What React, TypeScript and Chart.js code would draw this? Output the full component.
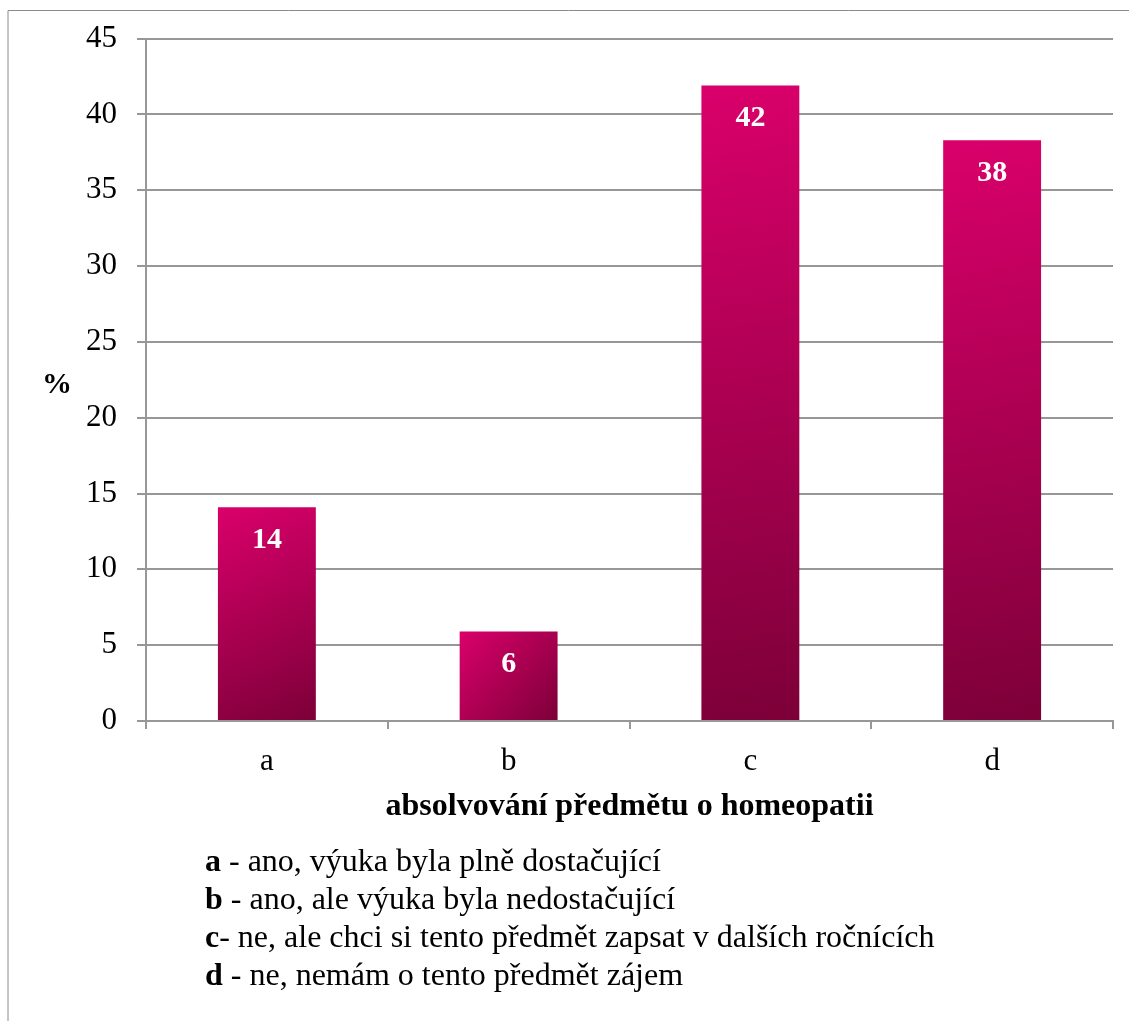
import React, { useEffect, useRef } from "react";
import { Chart, registerables } from "chart.js";

Chart.register(...registerables);

const CATEGORIES = ["a", "b", "c", "d"];
const VALUES = [14.1, 5.9, 41.9, 38.3];
const VALUE_LABELS = ["14", "6", "42", "38"];
const Y_MIN = 0;
const Y_MAX = 45;
const Y_STEP = 5;
const X_TITLE = "absolvování předmětu o homeopatii";
const Y_TITLE = "%";
const LEGEND_KEYS = ["a", "b", "c", "d"];
const LEGEND_TEXTS = [
  " - ano, výuka byla plně dostačující",
  " - ano, ale výuka byla nedostačující",
  "- ne, ale chci si tento předmět zapsat v dalších ročnících",
  " - ne, nemám o tento předmět zájem",
];

const SERIF = "'Liberation Serif', 'Times New Roman', serif";
const W = 1129;
const H = 1021;
const GRID = "#979797";
const BAR_PCT = 0.405;

const frame = {
  id: "frame",
  beforeDraw(chart: any) {
    const c = chart.ctx;
    c.save();
    c.strokeStyle = "#8a8a8a";
    c.lineWidth = 1;
    c.beginPath();
    c.moveTo(8, H);
    c.lineTo(8, 10.5);
    c.lineTo(W, 10.5);
    c.stroke();
    c.restore();
  },
};

const valueLabels = {
  id: "valueLabels",
  afterDatasetsDraw(chart: any) {
    const meta = chart.getDatasetMeta(0);
    const c = chart.ctx;
    c.save();
    c.fillStyle = "#ffffff";
    c.font = `bold 30px ${SERIF}`;
    c.textAlign = "center";
    c.textBaseline = "middle";
    meta.data.forEach((el: any, i: number) => {
      c.fillText(VALUE_LABELS[i], el.x, el.y + 33);
    });
    c.restore();
  },
};

export default function App() {
  const ref = useRef<HTMLCanvasElement | null>(null);

  useEffect(() => {
    if (!ref.current) return;
    const chart = new Chart(ref.current, {
      type: "bar",
      data: {
        labels: CATEGORIES,
        datasets: [
          {
            data: VALUES,
            categoryPercentage: 1,
            barPercentage: BAR_PCT,
            borderWidth: 0,
            backgroundColor: (ctx: any) => {
              const ch = ctx.chart;
              if (!ch.chartArea || ctx.type !== "data") return "#c0005c";
              const xs = ch.scales.x;
              const ys = ch.scales.y;
              const x = xs.getPixelForValue(ctx.dataIndex);
              const half = ((xs.width / CATEGORIES.length) * BAR_PCT) / 2;
              const top = ys.getPixelForValue(ctx.raw);
              const base = ys.getPixelForValue(0);
              const g = ch.ctx.createLinearGradient(x - half, top, x + half, base);
              g.addColorStop(0, "#da006b");
              g.addColorStop(1, "#7c0038");
              return g;
            },
          },
        ],
      },
      options: {
        responsive: false,
        animation: false,
        devicePixelRatio: 1,
        layout: { padding: { top: 35, right: 16, bottom: 195, left: 0 } },
        plugins: {
          legend: { display: false },
          tooltip: { enabled: false },
          title: { display: false },
        },
        scales: {
          x: {
            offset: true,
            grid: {
              offset: true,
              drawOnChartArea: false,
              drawTicks: true,
              tickLength: 8,
              color: GRID,
              lineWidth: 2,
            },
            border: { display: true, color: GRID, width: 2 },
            ticks: {
              color: "#000",
              font: { family: SERIF, size: 31 },
              padding: 14,
            },
            title: {
              display: true,
              text: X_TITLE,
              color: "#000",
              font: { family: SERIF, size: 32, weight: "bold" },
              padding: { top: 0, bottom: 0 },
            },
            afterFit(scale: any) {
              scale.height = 105;
            },
          },
          y: {
            min: Y_MIN,
            max: Y_MAX,
            grid: {
              color: GRID,
              lineWidth: 2,
              tickLength: 9,
              drawTicks: true,
            },
            border: { display: true, color: GRID, width: 2 },
            ticks: {
              stepSize: Y_STEP,
              color: "#000",
              font: { family: SERIF, size: 31 },
              padding: 20,
            },
            afterFit(scale: any) {
              scale.width = 146;
            },
          },
        },
      },
      plugins: [frame, valueLabels],
    });
    return () => chart.destroy();
  }, []);

  return (
    <div style={{ position: "absolute", left: 0, top: 0, width: W, height: H, background: "#fff" }}>
      <canvas ref={ref} width={W} height={H} style={{ position: "absolute", left: 0, top: 0 }} />
      <div
        style={{
          position: "absolute",
          left: 0,
          width: 114,
          top: 368,
          textAlign: "center",
          fontFamily: SERIF,
          fontWeight: "bold",
          fontSize: 30,
          lineHeight: "30px",
          color: "#000",
        }}
      >
        {Y_TITLE}
      </div>
      <div
        style={{
          position: "absolute",
          left: 205,
          top: 841,
          fontFamily: SERIF,
          fontSize: 32,
          lineHeight: "38px",
          color: "#000",
          whiteSpace: "nowrap",
        }}
      >
        {LEGEND_KEYS.map((k, i) => (
          <div key={k}>
            <b>{k}</b>
            {LEGEND_TEXTS[i]}
          </div>
        ))}
      </div>
    </div>
  );
}
